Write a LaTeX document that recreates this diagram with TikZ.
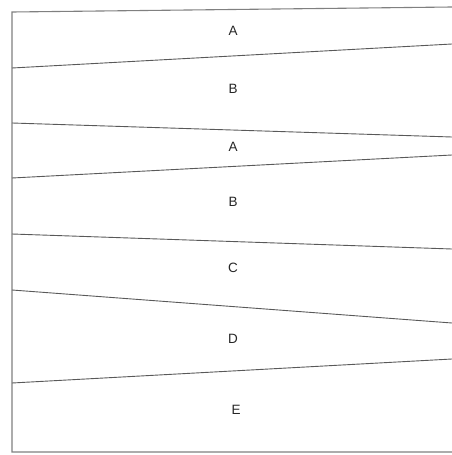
\documentclass[tikz,border=0pt]{standalone}
\usepackage{fontspec}
\setmainfont{Liberation Sans}
\begin{document}
\begin{tikzpicture}[x=1pt,y=-1pt,
  rule/.style={draw=black!65,line width=0.9pt},
  frame/.style={draw=black!50,line width=1.1pt},
  lbl/.style={font=\fontsize{13.5}{15}\selectfont,text=black!85}]
\useasboundingbox (0,0) rectangle (452,455);
% frame
\coordinate (tl) at (12,12);
\coordinate (tr) at (452,7);
\coordinate (bl) at (12,452);
\coordinate (br) at (452,452);
\draw[frame] (tr) -- (tl) -- (bl) -- (br);
% slanted rules
\coordinate (l1) at (12,68);  \coordinate (r1) at (452,44);
\coordinate (l2) at (12,123); \coordinate (r2) at (452,137);
\coordinate (l3) at (12,178); \coordinate (r3) at (452,155);
\coordinate (l4) at (12,234); \coordinate (r4) at (452,249);
\coordinate (l5) at (12,290); \coordinate (r5) at (452,323);
\coordinate (l6) at (12,383); \coordinate (r6) at (452,359);
\foreach \i in {1,...,6} \draw[rule] (l\i) -- (r\i);
% labels
\node[lbl] (a1) at (233,31) {A};
\node[lbl] (b1) at (233,89) {B};
\node[lbl] (a2) at (233,147) {A};
\node[lbl] (b2) at (233,202) {B};
\node[lbl] (c)  at (233,268) {C};
\node[lbl] (d)  at (233,339) {D};
\node[lbl] (e)  at (236,410) {E};
\end{tikzpicture}
\end{document}
